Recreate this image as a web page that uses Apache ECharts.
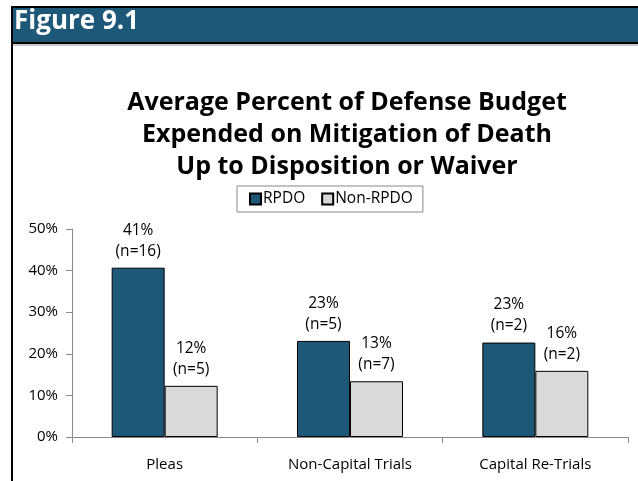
<!DOCTYPE html>
<html>
<head>
<meta charset="utf-8">
<script src="https://cdn.jsdelivr.net/npm/echarts@6/dist/echarts.min.js"></script>
<style>
  html, body { margin: 0; padding: 0; background: #fff; }
  #chart { width: 638px; height: 481px; }
</style>
</head>
<body>
<div id="chart"></div>
<script>
const categories = ['Pleas', 'Non-Capital Trials', 'Capital Re-Trials']
const rpdo = [40.7, 23.1, 22.7]
const nonRpdo = [12.3, 13.4, 15.9]
const rpdoN = [16, 5, 2]
const nonRpdoN = [5, 7, 2]
const yTicks = [0, 10, 20, 30, 40, 50]

const chart = echarts.init(document.getElementById('chart'))

function labelFor(nList) {
  return {
    show: true,
    position: 'top',
    distance: 6,
    color: '#000',
    fontFamily: 'Open Sans',
    fontSize: 15.5,
    lineHeight: 21,
    formatter: p => Math.round(p.value) + '%\n(n=' + nList[p.dataIndex] + ')'
  }
}

const option = {
  animation: false,
  backgroundColor: '#fff',
  graphic: [
    // header band
    { type: 'rect', shape: { x: 11, y: 6, width: 627, height: 38 }, style: { fill: '#000' } },
    { type: 'rect', shape: { x: 13, y: 8, width: 625, height: 34 }, style: { fill: '#1e5878' } },
    { type: 'rect', shape: { x: 13, y: 44, width: 625, height: 2 }, style: { fill: '#c8c8c8' } },
    { type: 'rect', shape: { x: 11, y: 6, width: 2, height: 475 }, style: { fill: '#000' } },
    {
      type: 'text', left: 14, top: 9,
      style: { text: 'Figure 9.1', fill: '#fff', font: 'bold 26px "Open Sans"' }
    }
  ],
  title: {
    text: 'Average Percent of Defense Budget\nExpended on Mitigation of Death\nUp to Disposition or Waiver',
    left: 342,
    textAlign: 'center',
    top: 82,
    textStyle: { fontFamily: 'Open Sans', fontWeight: 'bold', fontSize: 25, lineHeight: 32, color: '#000' }
  },
  legend: {
    top: 186,
    left: 237,
    width: 191,
    itemWidth: 11,
    itemHeight: 11,
    itemGap: 16,
    padding: [5, 10, 5, 12],
    borderColor: '#888',
    borderWidth: 1,
    icon: 'rect',
    textStyle: { fontFamily: 'Open Sans', fontSize: 15.5, color: '#000', padding: [0, 0, 0, -3] },
    data: ['RPDO', 'Non-RPDO']
  },
  grid: { left: 72, right: 10, top: 229, bottom: 44 },
  xAxis: {
    type: 'category',
    data: categories,
    axisLine: { lineStyle: { color: '#8a8a8a', width: 1 } },
    axisTick: { show: true, length: 6, lineStyle: { color: '#8a8a8a' } },
    axisLabel: { color: '#000', fontFamily: 'Open Sans', fontSize: 15, margin: 20 }
  },
  yAxis: {
    type: 'value',
    min: yTicks[0],
    max: yTicks[yTicks.length - 1],
    interval: 10,
    splitLine: { show: false },
    axisLine: { show: true, lineStyle: { color: '#8a8a8a' } },
    axisTick: { show: true, length: 6, lineStyle: { color: '#8a8a8a' } },
    axisLabel: { color: '#000', fontFamily: 'Open Sans', fontSize: 15, margin: 14, formatter: '{value}%' }
  },
  series: [
    {
      name: 'RPDO',
      type: 'bar',
      data: rpdo,
      barWidth: 53,
      barGap: '0%',
      itemStyle: { color: '#1e5878', borderColor: '#000', borderWidth: 1 },
      label: labelFor(rpdoN)
    },
    {
      name: 'Non-RPDO',
      type: 'bar',
      data: nonRpdo,
      barWidth: 53,
      barGap: '0%',
      itemStyle: { color: '#d9d9d9', borderColor: '#000', borderWidth: 1 },
      label: labelFor(nonRpdoN)
    }
  ]
}

chart.setOption(option)
</script>
</body>
</html>
